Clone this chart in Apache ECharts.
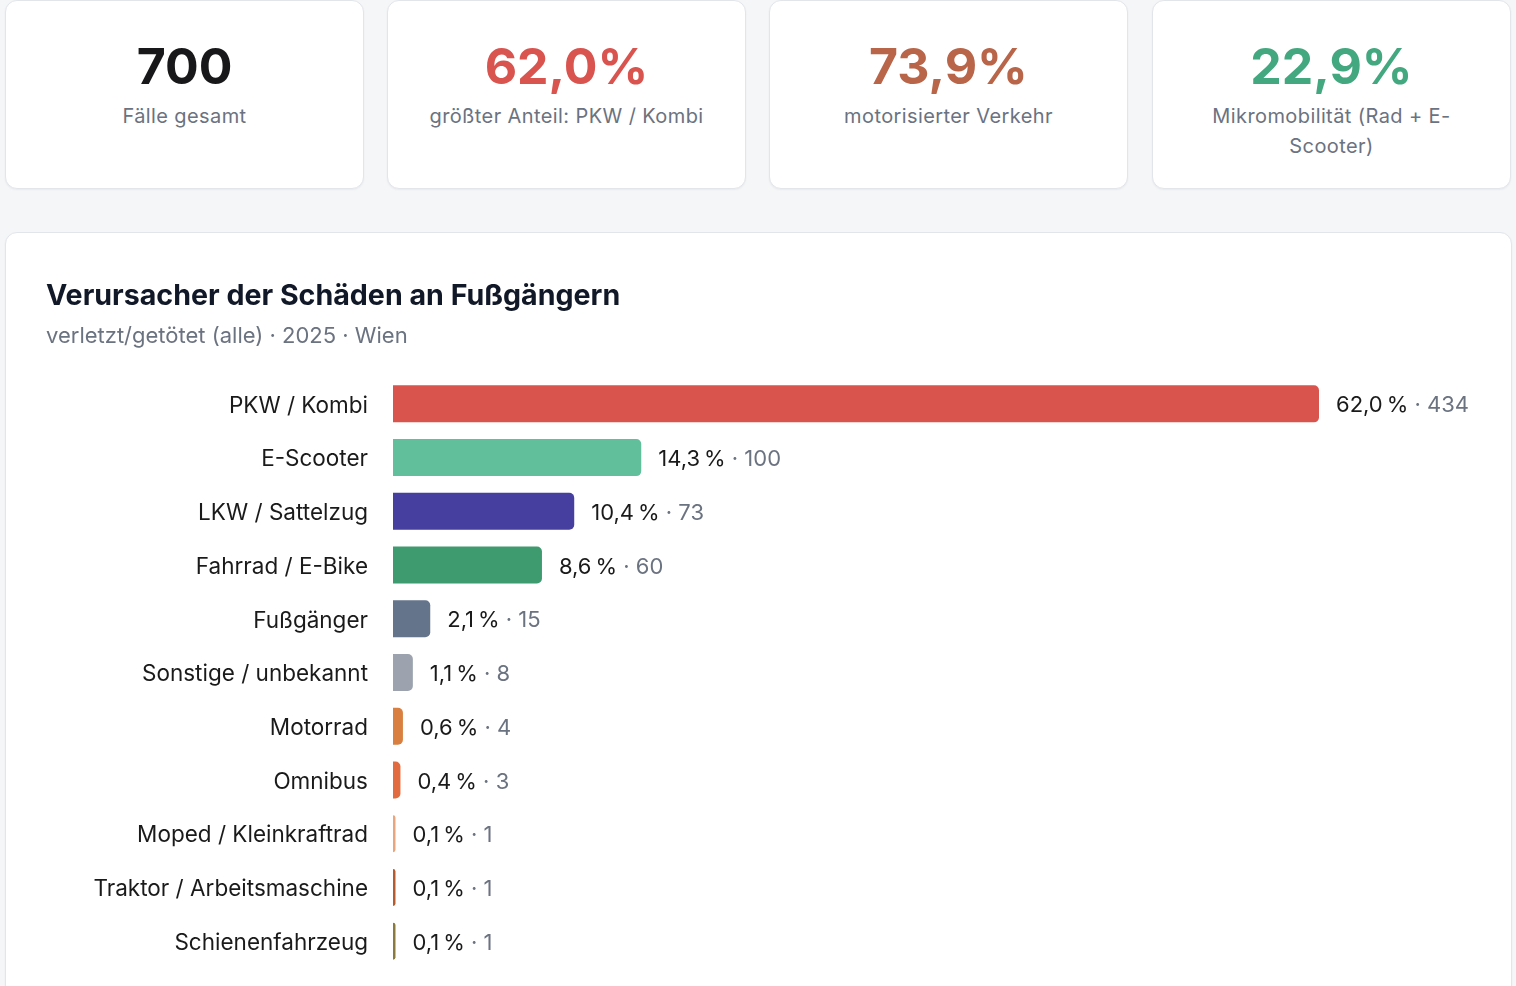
<!DOCTYPE html>
<html>
<head>
<meta charset="utf-8">
<script src="https://cdn.jsdelivr.net/npm/echarts@6/dist/echarts.min.js"></script>
<style>
  html, body { margin: 0; padding: 0; }
  body {
    width: 1516px; height: 986px; overflow: hidden; position: relative;
    background: #f5f6f8; font-family: Inter, "Noto Sans", sans-serif;
  }
  .card {
    position: absolute; box-sizing: border-box; background: #fff;
    border: 1px solid #e2e5e9; border-radius: 12px;
    box-shadow: 0 1px 2px rgba(16, 24, 40, 0.05);
  }
  .kpi { top: 0; height: 189px; width: 359px; text-align: center; padding: 0 30px; }
  .kpi .num { margin-top: 35px; font-size: 50px; font-weight: 700; line-height: 60px; letter-spacing: 0; }
  .kpi .lbl { margin-top: 5px; font-size: 20px; line-height: 30px; color: #6b7280; letter-spacing: 0.4px; }
  #panel { left: 5px; top: 232px; width: 1507px; height: 800px; }
  #main { position: absolute; left: 5px; top: 232px; width: 1507px; height: 800px; }
</style>
</head>
<body>
<div class="card kpi" style="left:5px"><div class="num" style="color:#18181b">700</div><div class="lbl">Fälle gesamt</div></div>
<div class="card kpi" style="left:387px"><div class="num" style="color:#d9534f">62,0%</div><div class="lbl">größter Anteil: PKW / Kombi</div></div>
<div class="card kpi" style="left:769px"><div class="num" style="color:#b8654a">73,9%</div><div class="lbl">motorisierter Verkehr</div></div>
<div class="card kpi" style="left:1152px"><div class="num" style="color:#43a87f">22,9%</div><div class="lbl">Mikromobilität (Rad + E-Scooter)</div></div>
<div class="card" id="panel"></div>
<div id="main"></div>
<script>
const categories = ['PKW / Kombi', 'E-Scooter', 'LKW / Sattelzug', 'Fahrrad / E-Bike', 'Fußgänger',
    'Sonstige / unbekannt', 'Motorrad', 'Omnibus', 'Moped / Kleinkraftrad', 'Traktor / Arbeitsmaschine', 'Schienenfahrzeug']
const counts = [434, 100, 73, 60, 15, 8, 4, 3, 1, 1, 1]
const percents = [62.0, 14.3, 10.4, 8.6, 2.1, 1.1, 0.6, 0.4, 0.1, 0.1, 0.1]
const colors = ['#d9544d', '#61bf9c', '#463f9f', '#3e9a6f', '#64748b', '#9ca3af',
    '#d97f3f', '#e36b40', '#e9a57e', '#b65b2d', '#8a7a3c']

const chart = echarts.init(document.getElementById('main'))

const fmtPct = v => v.toFixed(1).replace('.', ',') + '\u202f%'

chart.setOption({
    animation: false,
    title: {
        text: 'Verursacher der Schäden an Fußgängern',
        subtext: 'verletzt/getötet (alle) · 2025 · Wien',
        left: 41,
        top: 47,
        padding: 0,
        itemGap: 10,
        textStyle: { fontFamily: 'Inter', fontSize: 28.6, fontWeight: 700, color: '#111827', lineHeight: 34 },
        subtextStyle: { fontFamily: 'Inter', fontSize: 22, color: '#6b7280', lineHeight: 26 }
    },
    grid: { left: 388, right: 193, top: 145, height: 591 },
    xAxis: { type: 'value', min: 0, max: 373, show: false },
    yAxis: {
        type: 'category',
        data: categories,
        inverse: true,
        axisLine: { show: false },
        axisTick: { show: false },
        axisLabel: {
            margin: 25,
            formatter: '{a|{value}}',
            rich: { a: { fontFamily: 'Inter', fontSize: 22.5, color: '#1a1a1a', padding: [4, 0, 0, 0] } }
        }
    },
    series: [{
        type: 'bar',
        barWidth: 37,
        clip: true,
        data: counts.map((c, i) => ({ value: c, itemStyle: { color: colors[i] } })),
        itemStyle: { borderRadius: [0, 5, 5, 0] },
        label: {
            show: true,
            position: 'right',
            distance: 17,
            padding: [4, 0, 0, 0],
            formatter: p => `{p|${fmtPct(percents[p.dataIndex])}}{c| · ${counts[p.dataIndex]}}`,
            rich: {
                p: { fontFamily: 'Inter', fontSize: 22, color: '#1a1a1a' },
                c: { fontFamily: 'Inter', fontSize: 22, color: '#6b7280' }
            }
        }
    }]
})
</script>
</body>
</html>
